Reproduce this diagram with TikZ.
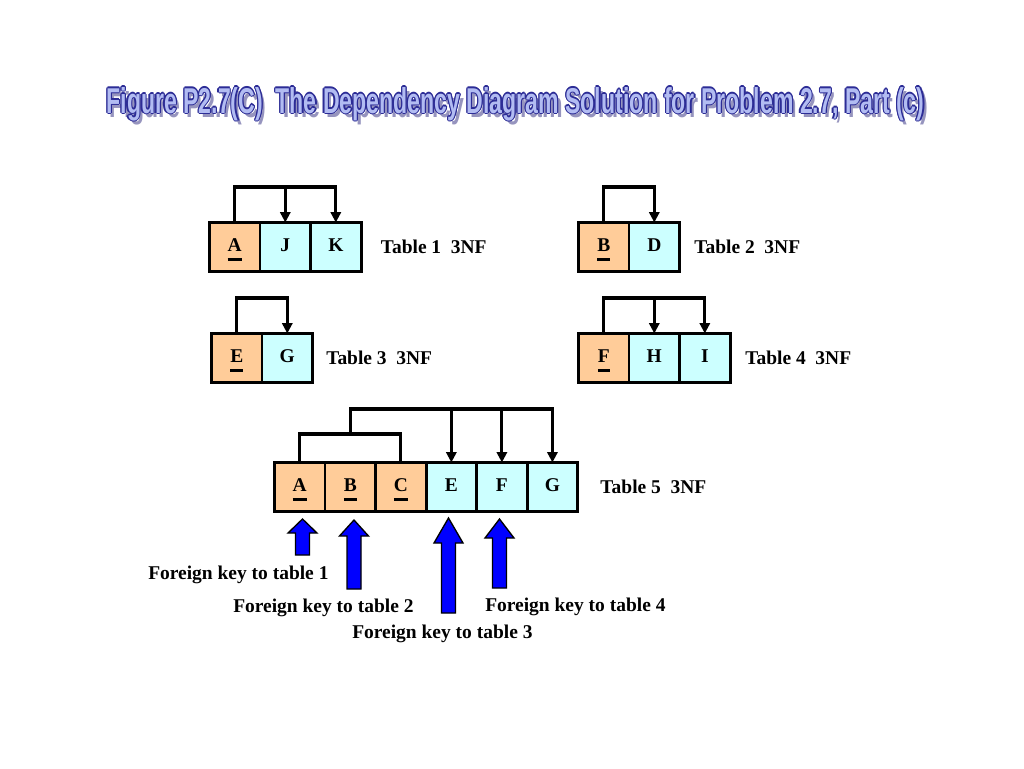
\documentclass[tikz,border=0pt]{standalone}
\usepackage{fontspec}
\setmainfont{Liberation Serif}
\newfontfamily\titlefont{Liberation Sans}
\usetikzlibrary{positioning, arrows.meta, calc}
\definecolor{keyfill}{RGB}{255,204,153}
\definecolor{attrfill}{RGB}{204,255,255}
\definecolor{fkblue}{RGB}{0,0,255}
\definecolor{titlefill}{RGB}{178,188,242}
\definecolor{titleline}{RGB}{44,44,150}
\definecolor{titleshade}{RGB}{150,148,190}
\tikzset{
    cell/.style={
           rectangle,
           draw=black, line width=2.2pt,
           minimum width=37.9pt,
           minimum height=36.75pt,
           inner sep=0pt, outer sep=0pt,
           text height=9.7pt, text depth=2.9pt,
           font=\boldtext,
           },
    keycell/.style={cell, fill=keyfill},
    attrcell/.style={cell, fill=attrfill},
    link/.style={line width=2.3pt},
    dep/.style={link, -{Triangle[length=7.8pt, width=7.6pt]}},
    tablename/.style={inner sep=0pt, font=\boldtext},
    fklabel/.style={inner sep=0pt, anchor=base west, font=\boldtext},
    fk/.style={draw=black, line width=1pt, fill=fkblue},
    heading/.style={inner sep=0pt, anchor=base},
}
\newcommand{\boldtext}{\fontsize{14.6}{17}\selectfont\bfseries}
\newcommand{\pk}[1]{\setbox0\hbox{#1}\vtop{\copy0\kern5pt\hrule height 2.2pt}}
\newcommand{\headingtext}{\resizebox{613.5pt}{19.5pt}{\titlefont\bfseries Figure P2.7(C)\ \ The Dependency Diagram Solution for Problem 2.7, Part (c)}}
% x, tail y, tip y, head length
\newcommand{\fkarrow}[4]{%
  \draw[fk] (#1-7,#2) -- (#1+7,#2) -- (#1+7,#3+#4) -- (#1+14.5,#3+#4)
    -- (#1,#3) -- (#1-14.5,#3+#4) -- (#1-7,#3+#4) -- cycle;}

\begin{document}
\begin{tikzpicture}[x=0.75pt, y=-0.75pt]
  \useasboundingbox[fill=white] (0,0) rectangle (1024,768);
  % title
  \node[heading, text=titleshade] (shade) at (519,117) {\headingtext};
  \foreach \dx/\dy [count=\i] in {-1.2/0, 1.2/0, 0/-1.2, 0/1.2, -.85/-.85, .85/-.85, -.85/.85, .85/.85}
    \node[heading, text=titleline] (rim\i) at (515.5+\dx,113+\dy) {\headingtext};
  \node[heading, text=titlefill] (title) at (515.5,113) {\headingtext};

  % table 1
  \node[keycell]              (A1) at (234.75,247) {\pk{A}};
  \node[attrcell, anchor=west] (J1) at (A1.east) {J};
  \node[attrcell, anchor=west] (K1) at (J1.east) {K};
  \node[tablename, right=14.6pt of K1] (t1) {Table 1~~3NF};
  \draw[dep] (A1.north) -- ++(0,-35.5) -| (K1.north);
  \draw[dep] (A1.north) ++(0,-35.5) -| (J1.north);

  % table 2
  \node[keycell]              (B2) at (603.75,247) {\pk{B}};
  \node[attrcell, anchor=west] (D2) at (B2.east) {D};
  \node[tablename, right=10.9pt of D2] (t2) {Table 2~~3NF};
  \draw[dep] (B2.north) -- ++(0,-35.5) -| (D2.north);

  % table 3
  \node[keycell]              (E3) at (236.75,358) {\pk{E}};
  \node[attrcell, anchor=west] (G3) at (E3.east) {G};
  \node[tablename, right=10.1pt of G3] (t3) {Table 3~~3NF};
  \draw[dep] (E3.north) -- ++(0,-35.5) -| (G3.north);

  % table 4
  \node[keycell]              (F4) at (603.75,358) {\pk{F}};
  \node[attrcell, anchor=west] (H4) at (F4.east) {H};
  \node[attrcell, anchor=west] (I4) at (H4.east) {I};
  \node[tablename, right=11.25pt of I4] (t4) {Table 4~~3NF};
  \draw[dep] (F4.north) -- ++(0,-35.5) -| (I4.north);
  \draw[dep] (F4.north) ++(0,-35.5) -| (H4.north);

  % table 5
  \node[keycell]              (A5) at (299.75,487) {\pk{A}};
  \node[keycell, anchor=west]  (B5) at (A5.east) {\pk{B}};
  \node[keycell, anchor=west]  (C5) at (B5.east) {\pk{C}};
  \node[attrcell, anchor=west] (E5) at (C5.east) {E};
  \node[attrcell, anchor=west] (F5) at (E5.east) {F};
  \node[attrcell, anchor=west] (G5) at (F5.east) {G};
  \node[tablename, right=16.9pt of G5] (t5) {Table 5~~3NF};
  \draw[link] (A5.north) -- ++(0,-28.5) -| (C5.north);
  \draw[dep] (B5.north) ++(0,-28.5) -- ++(0,-25) -| (G5.north);
  \draw[dep] (B5.north) ++(0,-53.5) -| (F5.north);
  \draw[dep] (B5.north) ++(0,-53.5) -| (E5.north);

  % foreign keys
  \fkarrow{302.5}{555}{519}{14}
  \fkarrow{354}{589}{520}{16}
  \fkarrow{448.5}{613}{518}{25}
  \fkarrow{499.5}{588}{519}{19}
  \node[fklabel] (fk1) at (148,579.5) {Foreign key to table 1};
  \node[fklabel] (fk2) at (233,612.5) {Foreign key to table 2};
  \node[fklabel] (fk3) at (352,638.5) {Foreign key to table 3};
  \node[fklabel] (fk4) at (485,611.5) {Foreign key to table 4};
\end{tikzpicture}
\end{document}
